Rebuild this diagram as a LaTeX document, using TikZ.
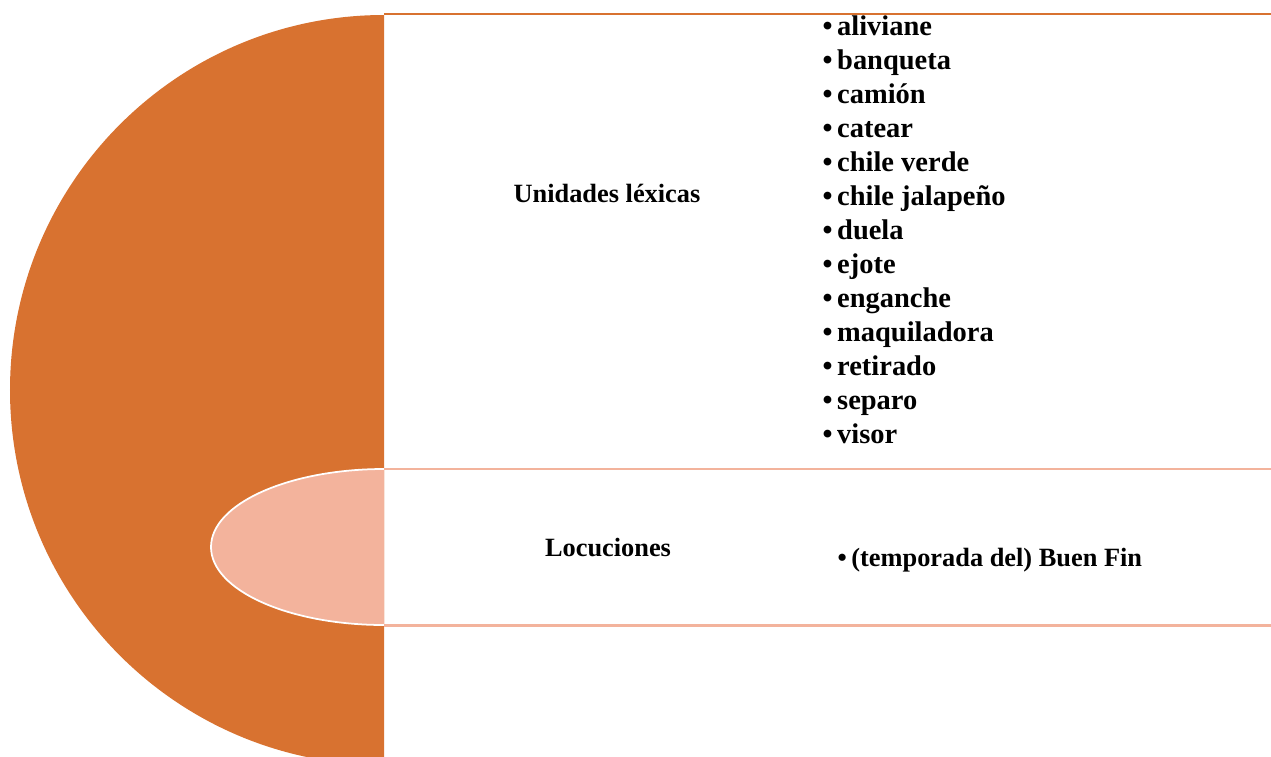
\documentclass[tikz,border=0pt]{standalone}
\usepackage{fontspec}
\setmainfont{Liberation Serif}
\usetikzlibrary{positioning}

\begin{document}
\begin{tikzpicture}[
    x=1cm, y=-1cm,
    catname/.style={font=\fontsize{7.5pt}{9pt}\selectfont\bfseries,
                    anchor=base, inner sep=0pt},
    entry/.style={font=\fontsize{8.1pt}{9.7pt}\selectfont\bfseries,
                  anchor=base west, inner sep=0pt},
    rule/.style={line width=0.7pt},
  ]
  \definecolor{arcfill}{HTML}{D87230}
  \definecolor{subfill}{HTML}{F3B39C}

  % Eje de los semicirculos (cm)
  \def\xm{3.84}
  \newcommand{\bul}{•\kern0.045cm}
  \useasboundingbox (0,0) rectangle (12.71,7.56);

  % ====================== SEMICIRCULOS =====================
  \begin{scope}
    \clip (0,0) rectangle (\xm,7.56);
    \fill[arcfill] (\xm,3.90) ellipse [x radius=3.74, y radius=3.75];
    \filldraw[fill=subfill, draw=white, line width=0.5pt]
      (\xm,5.47) ellipse [x radius=1.73, y radius=0.78];
  \end{scope}

  % ======================== LINEAS =========================
  \draw[rule, arcfill] (\xm,0.14) -- (12.71,0.14);
  \draw[rule, subfill] (\xm,4.69) -- (12.71,4.69);
  \draw[rule, subfill] (\xm,6.255) -- (12.71,6.255);

  % ====================== CATEGORIAS =======================
  \node[catname] (ul) at (6.07,2.02) {Unidades léxicas};
  \node[catname] (loc) at (6.08,5.56) {Locuciones};

  % ======================== LISTAS =========================
  \foreach \w [count=\i] in {aliviane, banqueta, camión, catear,
      chile verde, chile jalapeño, duela, ejote, enganche,
      maquiladora, retirado, separo, visor}
    \node[entry] (w\i) at (8.22, {0.01+0.34*\i}) {\bul\w};
  \node[catname, anchor=base west] (bf) at (8.37,5.66)
    {\bul(temporada del) Buen Fin};
\end{tikzpicture}
\end{document}
